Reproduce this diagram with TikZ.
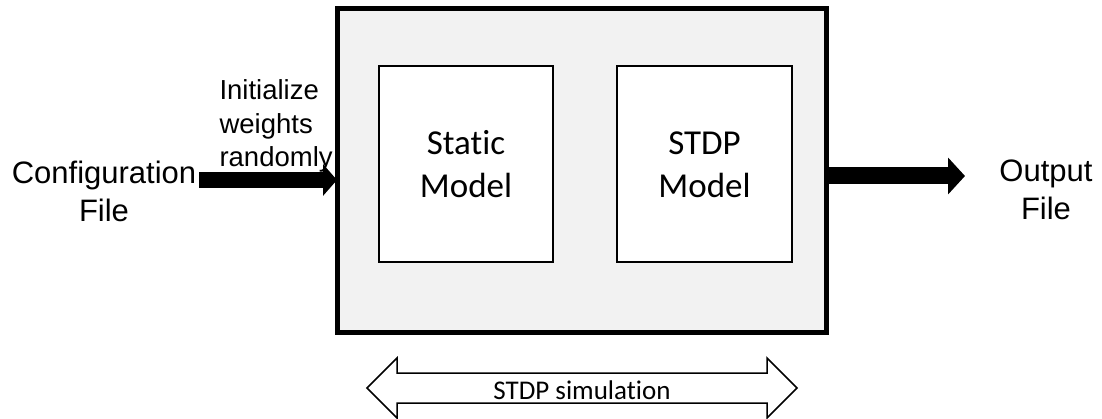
\documentclass[tikz,border=0pt]{standalone}
\usepackage{fontspec}
\setmainfont{Liberation Sans}
\newfontfamily\calib[Ligatures=NoCommon]{Carlito}
\usetikzlibrary{arrows.meta}
\definecolor{panelgray}{HTML}{F2F2F2}
\tikzset{
  panel/.style={draw=black, line width=5pt, fill=panelgray},
  modelbox/.style={draw=black, line width=1.5pt, fill=white},
  modeltext/.style={font=\calib\fontsize{35}{43}\selectfont, align=center, anchor=base},
  iotext/.style={font=\fontsize{31}{38.5}\selectfont, align=center, anchor=base},
  notetext/.style={font=\fontsize{27.5}{33.5}\selectfont, align=left, anchor=base west},
  inarrow/.style={line width=16pt, -{Triangle[length=14pt, width=31pt]}},
  outarrow/.style={line width=17pt, -{Triangle[length=17pt, width=36pt]}},
  spanarrow/.style={draw=black, line width=1.5pt, fill=white, line join=miter}
}
\begin{document}
\begin{tikzpicture}[x=1pt, y=-1pt]
  \useasboundingbox (0,0) rectangle (1102,419);

  % simulation container and the two models
  \draw[panel] (337,9) rectangle (826,332);
  \coordinate (main-w) at (337,170);
  \coordinate (main-e) at (826,170);
  \draw[modelbox] (379,66) rectangle (553,262);
  \draw[modelbox] (617,66) rectangle (792,262);
  \node[modeltext] (static) at (466,198) {Static\\Model};
  \node[modeltext] (stdp) at (704.5,198) {STDP\\Model};

  % input side (base anchors sit on the last line)
  \node[iotext] (cfg) at (104,222) {Configuration\\File};
  \node[notetext] (init) at (216,167) {Initialize\\weights\\randomly};
  \coordinate (in-start) at (199,180);
  \draw[inarrow] (in-start) -- (in-start -| main-w);

  % output side
  \node[iotext] (out) at (1046,220) {Output\\File};
  \coordinate (out-start) at (828,176);
  \coordinate (out-end) at (965,176);
  \draw[outarrow] (out-start) -- (out-end);

  % span of the simulation
  \draw[spanarrow] (367,388) -- (397,358) -- (397,373) -- (767,373) -- (767,358)
    -- (797,388) -- (767,418) -- (767,403) -- (397,403) -- (397,418) -- cycle;
  \node[font=\calib\fontsize{27}{32}\selectfont, anchor=base] (span) at (582,399) {STDP simulation};
\end{tikzpicture}
\end{document}
